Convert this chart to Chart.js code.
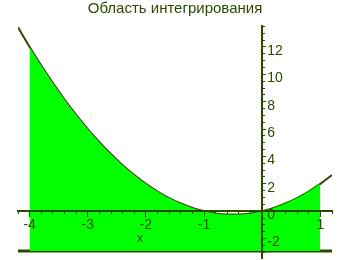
<!DOCTYPE html>
<html>
<head>
<meta charset="utf-8">
<script src="https://cdn.jsdelivr.net/npm/chart.js@4.4.1/dist/chart.umd.min.js"></script>
<style>
  html, body { margin: 0; padding: 0; background: #ffffff; }
  canvas { display: block; }
</style>
</head>
<body>
<canvas id="regionChart" width="351" height="260"></canvas>
<script>
// curve
const X_VALUES = [-4.2, -4, -3.8, -3.6, -3.4, -3.2, -3, -2.8, -2.6, -2.4, -2.2, -2, -1.8, -1.6,
                  -1.4, -1.2, -1, -0.8, -0.6, -0.4, -0.2, 0, 0.2, 0.4, 0.6, 0.8, 1, 1.2];
const Y_VALUES = [13.44, 12, 10.64, 9.36, 8.16, 7.04, 6, 5.04, 4.16, 3.36, 2.64, 2, 1.44, 0.96,
                  0.56, 0.24, 0, -0.16, -0.24, -0.24, -0.16, 0, 0.24, 0.56, 0.96, 1.44, 2, 2.64];
// shaded region bounds
const REGION_X = [-4, 1];
const FLOOR_Y = -2.9;
// axes
const X_RANGE = [-4.2, 1.2];
const Y_RANGE = [-3.42, 13.53];
const X_TICK_LABELS = [-4, -3, -2, -1, 1];
const Y_TICK_LABELS = [-2, 0, 2, 4, 6, 8, 10, 12];
const TITLE = 'Область интегрирования';
const X_TITLE = 'x';

const INK = '#2b4a00';
const FILL = '#00ff00';
const FONT = 'Liberation Sans';

const curve = X_VALUES.map((x, i) => ({ x: x, y: Y_VALUES[i] }));
const region = curve.filter(p => p.x >= REGION_X[0] - 1e-9 && p.x <= REGION_X[1] + 1e-9);
const floor = [{ x: X_VALUES[0], y: FLOOR_Y }, { x: X_VALUES[X_VALUES.length - 1], y: FLOOR_Y }];

// y labels sit right of the axis, x title under the axis
const axisText = {
    id: 'axisText',
    afterDraw(chart) {
        const { ctx, scales } = chart;
        const x0 = scales.x.getPixelForValue(0);
        ctx.save();
        ctx.fillStyle = INK;
        ctx.font = `14px "${FONT}"`;
        ctx.textAlign = 'left';
        ctx.textBaseline = 'middle';
        Y_TICK_LABELS.forEach(v => {
            ctx.fillText(String(v), x0 + 5, scales.y.getPixelForValue(v) + 4);
        });
        ctx.font = `12px "${FONT}"`;
        ctx.textAlign = 'center';
        ctx.fillText(X_TITLE, scales.x.getPixelForValue(-2.1), scales.y.getPixelForValue(-2.0));
        ctx.restore();
    }
};

new Chart(document.getElementById('regionChart').getContext('2d'), {
    type: 'line',
    data: {
        datasets: [
            {
                data: region,
                xAxisID: 'x', yAxisID: 'y',
                fill: { value: FLOOR_Y },
                backgroundColor: FILL,
                borderWidth: 0,
                pointRadius: 0,
                tension: 0.4
            },
            {
                data: curve,
                xAxisID: 'x', yAxisID: 'y',
                fill: false,
                borderColor: INK,
                borderWidth: 2,
                pointRadius: 0,
                tension: 0.4
            },
            {
                data: floor,
                xAxisID: 'x', yAxisID: 'y',
                fill: false,
                borderColor: INK,
                borderWidth: 3,
                pointRadius: 0
            }
        ]
    },
    options: {
        responsive: false,
        animation: false,
        devicePixelRatio: 1,
        layout: { padding: { left: 18, right: 19, top: 0, bottom: 2 } },
        plugins: {
            legend: { display: false },
            tooltip: { enabled: false },
            title: {
                display: true,
                text: TITLE,
                color: INK,
                font: { family: FONT, size: 15, weight: 'normal' },
                padding: { top: 0, bottom: 8 }
            }
        },
        scales: {
            x: {
                type: 'linear',
                min: X_RANGE[0], max: X_RANGE[1],
                position: { y: 0 },
                border: { color: INK, width: 2, z: 1 },
                grid: { drawOnChartArea: false, color: INK, tickLength: 5, z: 1 },
                ticks: {
                    z: 1,
                    stepSize: 1,
                    includeBounds: false,
                    autoSkip: false,
                    maxRotation: 0,
                    color: INK,
                    padding: 1,
                    font: { family: FONT, size: 14 },
                    callback: v => X_TICK_LABELS.includes(v) ? String(v) : ''
                }
            },
            xMinor: {
                type: 'linear',
                axis: 'x',
                min: X_RANGE[0], max: X_RANGE[1],
                position: { y: 0 },
                border: { display: false },
                grid: { drawOnChartArea: false, color: INK, tickLength: 3, z: 1 },
                ticks: { display: false, stepSize: 0.2, includeBounds: false, maxTicksLimit: 100 }
            },
            y: {
                type: 'linear',
                min: Y_RANGE[0], max: Y_RANGE[1],
                position: { x: 0 },
                border: { color: INK, width: 2, z: 1 },
                grid: { drawOnChartArea: false, color: INK, tickLength: -5, z: 1 },
                ticks: { display: false, stepSize: 2, includeBounds: false }
            },
            yMinor: {
                type: 'linear',
                axis: 'y',
                min: Y_RANGE[0], max: Y_RANGE[1],
                position: { x: 0 },
                border: { display: false },
                grid: { drawOnChartArea: false, color: INK, tickLength: -3, z: 1 },
                ticks: { display: false, stepSize: 0.5, includeBounds: false, maxTicksLimit: 100 }
            }
        }
    },
    plugins: [axisText]
});
</script>
</body>
</html>
